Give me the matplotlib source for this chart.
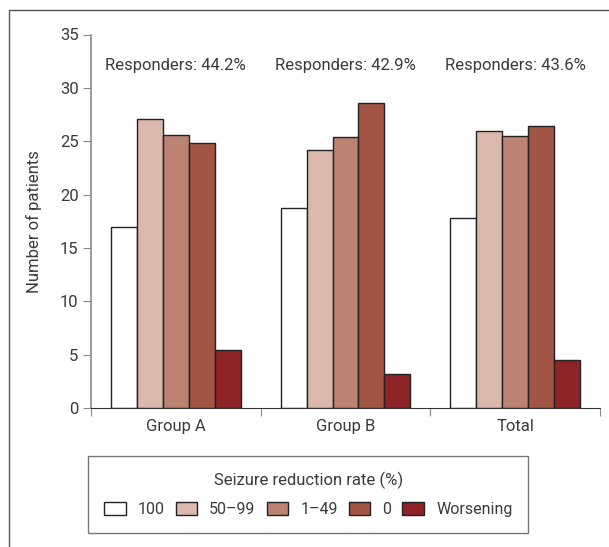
import matplotlib
matplotlib.use('Agg')
from matplotlib import pyplot as plt
from matplotlib.patches import Rectangle, Patch
import numpy as np

# Data
groups = ['Group A', 'Group B', 'Total']
categories = ['100', '50\u201399', '1\u201349', '0', 'Worsening']
values = {
    '100': [17.0, 18.7, 17.8],
    '50\u201399': [27.1, 24.2, 26.0],
    '1\u201349': [25.6, 25.4, 25.5],
    '0': [24.8, 28.6, 26.4],
    'Worsening': [5.4, 3.2, 4.5],
}
responders = ['44.2%', '42.9%', '43.6%']
colors = ['#ffffff', '#dbb8ac', '#bc8272', '#a35545', '#8e2328']

text_color = '#3a3a3a'
axis_color = '#8a8a8a'
plt.rcParams['font.family'] = ['Roboto', 'DejaVu Sans']

fig = plt.figure(figsize=(6.09, 5.47), dpi=100)
fig.set_facecolor('white')

# outer frame, cut by the right and bottom edge of the picture
fig.patches.append(Rectangle((9 / 609, -0.1), 1.2, 1 - 10 / 547 + 0.1,
                             transform=fig.transFigure, fill=False,
                             edgecolor='#555555', linewidth=1.0))

ax = fig.add_axes([91 / 609, 1 - 408 / 547, 509 / 609, 373.5 / 547])

width = 0.153
centers = np.arange(len(groups)) + 0.5
for i, (cat, color) in enumerate(zip(categories, colors)):
    x = centers + (i - 2) * width
    ax.bar(x, values[cat], width, color=color, edgecolor='#222222',
           linewidth=1.0, zorder=2)

for c, r in zip(centers, responders):
    ax.text(c, 32.1, 'Responders: ' + r, ha='center', va='center',
            fontsize=12, color=text_color)

ax.set_xlim(0, 3)
ax.set_ylim(0, 35)
ax.set_yticks(np.arange(0, 36, 5))
ax.set_xticks([0, 1, 2, 3])
ax.set_xticklabels([])
ax.set_xticks(centers, minor=True)
ax.set_xticklabels(groups, minor=True)
ax.tick_params(axis='x', which='minor', length=0, pad=8,
               labelsize=12, labelcolor=text_color)
ax.tick_params(axis='x', which='major', length=6, color=axis_color,
               direction='out')
ax.tick_params(axis='y', length=6, color=axis_color, direction='out',
               labelsize=12, labelcolor=text_color, pad=3)

for side in ('top', 'right'):
    ax.spines[side].set_visible(False)
ax.spines['left'].set_color(axis_color)
ax.spines['bottom'].set_color('#333333')
ax.spines['left'].set_linewidth(1.2)

ax.set_ylabel('Number of patients', fontsize=12, color=text_color,
              labelpad=13)

handles = [Patch(facecolor=c, edgecolor='#222222', linewidth=1.0)
           for c in colors]
leg = fig.legend(handles, categories, ncol=5, loc='upper left',
                 bbox_to_anchor=(88 / 609, 1 - 456 / 547),
                 title='Seizure reduction rate (%)', fontsize=11.5,
                 title_fontsize=12, frameon=True, fancybox=False,
                 handlelength=1.35, handleheight=0.85, handletextpad=0.75,
                 columnspacing=0.7, borderpad=1.0, labelspacing=0.8,
                 borderaxespad=0)
leg.get_frame().set_edgecolor('#555555')
leg.get_frame().set_linewidth(1.0)
for t in leg.get_texts():
    t.set_color(text_color)
leg.get_title().set_color(text_color)

fig.savefig('out.png', dpi=100)
